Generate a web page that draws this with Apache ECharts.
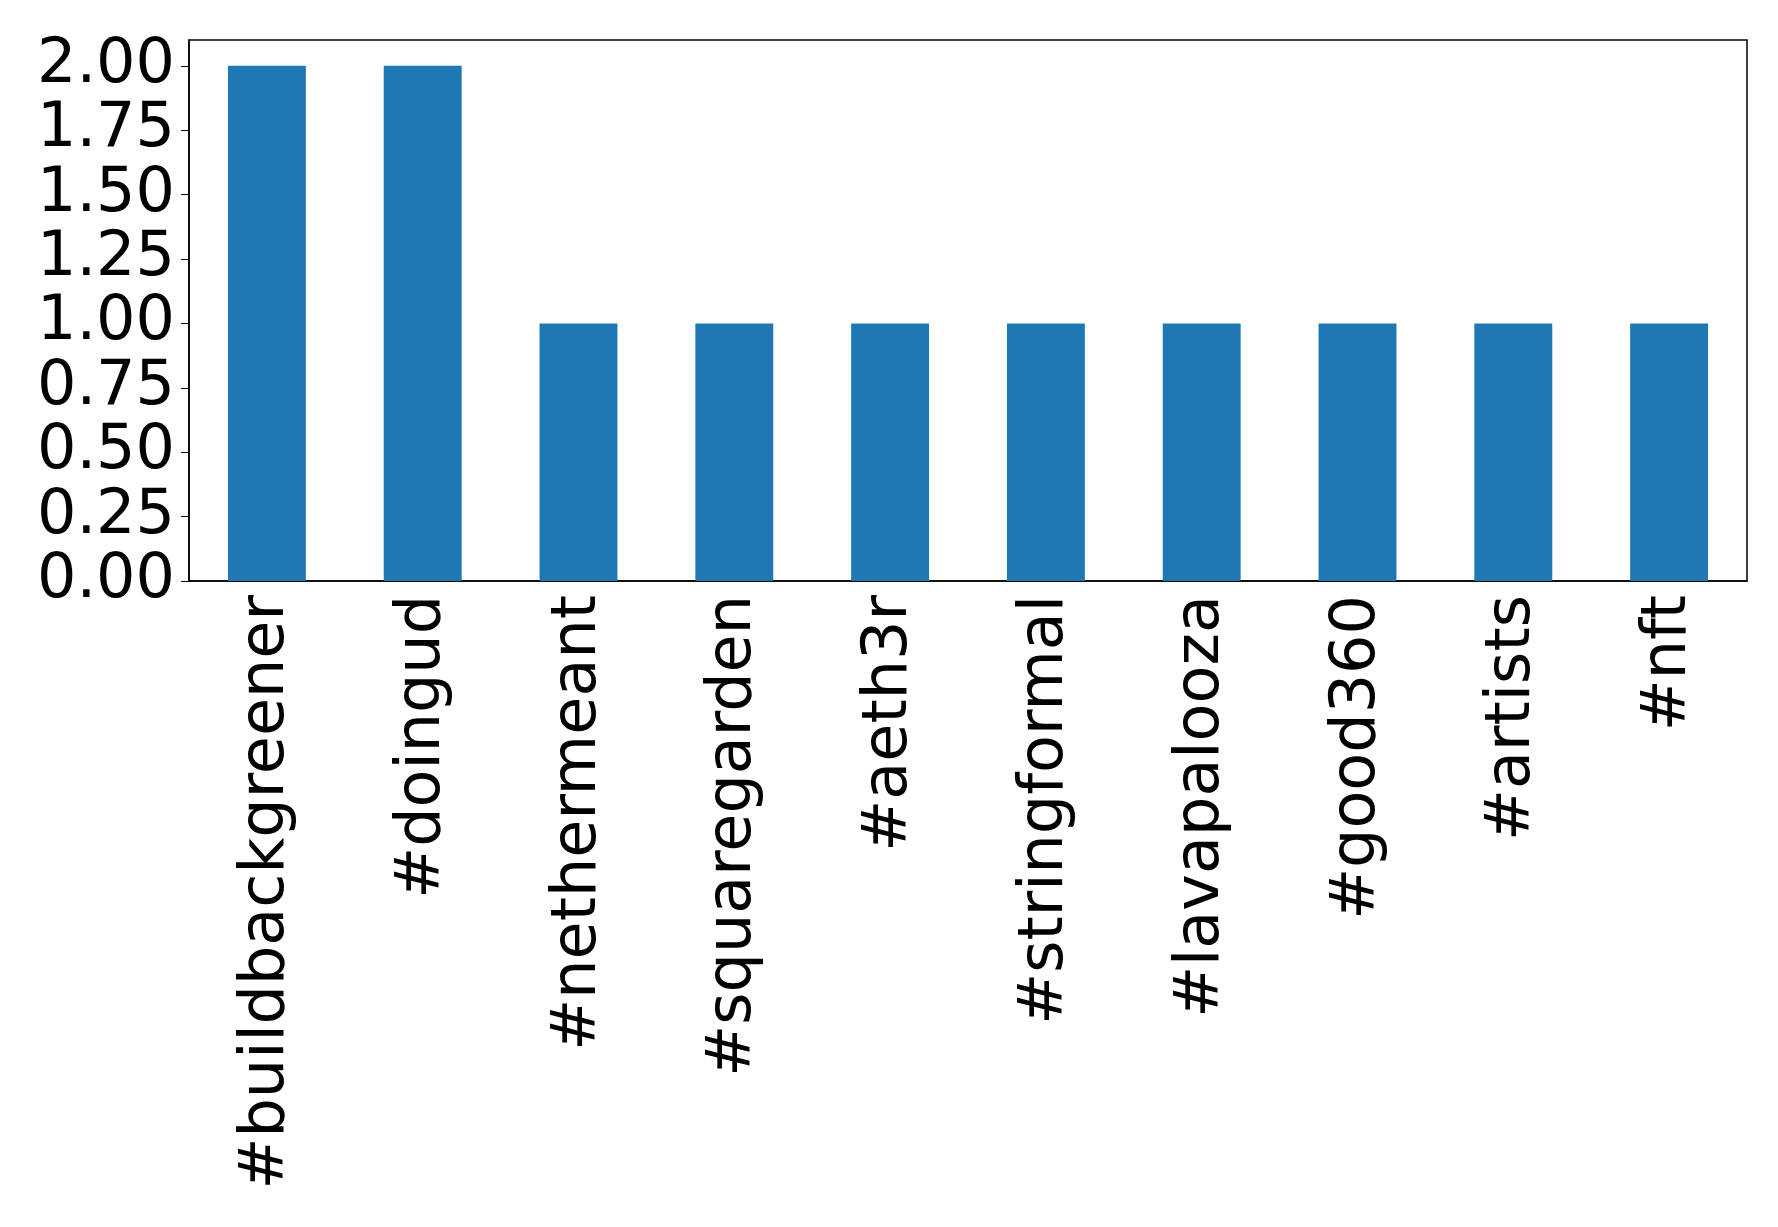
<!DOCTYPE html>
<html>
<head>
<meta charset="utf-8">
<script src="https://cdn.jsdelivr.net/npm/echarts@6/dist/echarts.min.js"></script>
<style>html,body{margin:0;padding:0;background:#fff}#main{width:1778px;height:1227px}</style>
</head>
<body>
<div id="main"></div>
<script>
var tags=['#buildbackgreener','#doingud','#nethermeant','#squaregarden','#aeth3r','#stringformal','#lavapalooza','#good360','#artists','#nft'];
var counts=[2,2,1,1,1,1,1,1,1,1];

var myChart=echarts.init(document.getElementById('main'));
myChart.setOption({
    animation:false,
    textStyle:{fontFamily:'DejaVu Sans'},
    grid:{left:189,top:40,width:1558,height:541,show:true,borderColor:'#000',borderWidth:1.5,containLabel:false},
    xAxis:{
        type:'category',
        data:tags,
        axisLine:{lineStyle:{color:'#000',width:1.5}},
        axisTick:{alignWithLabel:true,length:8,lineStyle:{color:'#000'}},
        axisLabel:{rotate:90,fontSize:62,color:'#000',margin:14,interval:0}
    },
    yAxis:{
        type:'value',
        min:0,max:2.1,interval:0.25,
        splitLine:{show:false},
        axisLine:{show:true,lineStyle:{color:'#000',width:1.5}},
        axisTick:{show:true,length:8,lineStyle:{color:'#000'}},
        axisLabel:{fontSize:62,color:'#000',margin:14,showMaxLabel:false,
            formatter:function(v){return v.toFixed(2);}}
    },
    series:[{type:'bar',data:counts,barWidth:'50%',itemStyle:{color:'#1f77b4'}}]
});
</script>
</body>
</html>
